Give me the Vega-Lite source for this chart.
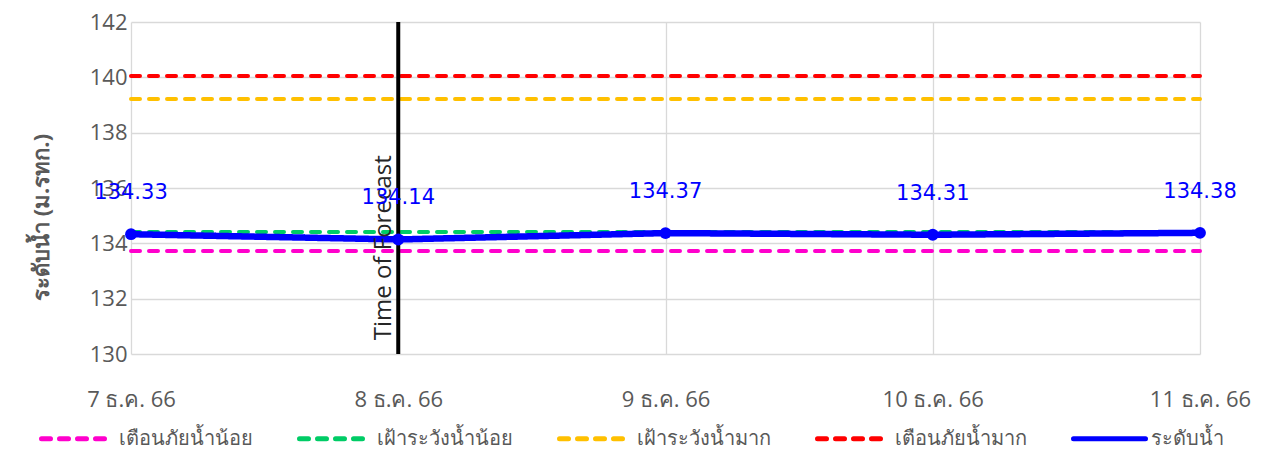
{
  "$schema": "https://vega.github.io/schema/vega-lite/v6.json",
  "autosize": {"type": "none"},
  "width": 1069,
  "height": 332,
  "padding": {"left": 131, "top": 22, "right": 61, "bottom": 98},
  "background": "white",
  "config": {
    "view": {"stroke": null},
    "font": "Open Sans",
    "axis": {"labelColor": "#595959", "labelFontSize": 22, "grid": true, "gridColor": "#d9d9d9", "gridWidth": 1.3, "domain": false, "ticks": false, "labelFont": "Open Sans"}
  },
  "datasets": {
    "levels": [
      {"date": "7 ธ.ค. 66", "series": "เตือนภัยน้ำน้อย", "value": 133.72},
      {"date": "8 ธ.ค. 66", "series": "เตือนภัยน้ำน้อย", "value": 133.72},
      {"date": "9 ธ.ค. 66", "series": "เตือนภัยน้ำน้อย", "value": 133.72},
      {"date": "10 ธ.ค. 66", "series": "เตือนภัยน้ำน้อย", "value": 133.72},
      {"date": "11 ธ.ค. 66", "series": "เตือนภัยน้ำน้อย", "value": 133.72},
      {"date": "7 ธ.ค. 66", "series": "เฝ้าระวังน้ำน้อย", "value": 134.41},
      {"date": "8 ธ.ค. 66", "series": "เฝ้าระวังน้ำน้อย", "value": 134.41},
      {"date": "9 ธ.ค. 66", "series": "เฝ้าระวังน้ำน้อย", "value": 134.41},
      {"date": "10 ธ.ค. 66", "series": "เฝ้าระวังน้ำน้อย", "value": 134.41},
      {"date": "11 ธ.ค. 66", "series": "เฝ้าระวังน้ำน้อย", "value": 134.41},
      {"date": "7 ธ.ค. 66", "series": "เฝ้าระวังน้ำมาก", "value": 139.22},
      {"date": "8 ธ.ค. 66", "series": "เฝ้าระวังน้ำมาก", "value": 139.22},
      {"date": "9 ธ.ค. 66", "series": "เฝ้าระวังน้ำมาก", "value": 139.22},
      {"date": "10 ธ.ค. 66", "series": "เฝ้าระวังน้ำมาก", "value": 139.22},
      {"date": "11 ธ.ค. 66", "series": "เฝ้าระวังน้ำมาก", "value": 139.22},
      {"date": "7 ธ.ค. 66", "series": "เตือนภัยน้ำมาก", "value": 140.05},
      {"date": "8 ธ.ค. 66", "series": "เตือนภัยน้ำมาก", "value": 140.05},
      {"date": "9 ธ.ค. 66", "series": "เตือนภัยน้ำมาก", "value": 140.05},
      {"date": "10 ธ.ค. 66", "series": "เตือนภัยน้ำมาก", "value": 140.05},
      {"date": "11 ธ.ค. 66", "series": "เตือนภัยน้ำมาก", "value": 140.05},
      {"date": "7 ธ.ค. 66", "series": "ระดับน้ำ", "value": 134.33},
      {"date": "8 ธ.ค. 66", "series": "ระดับน้ำ", "value": 134.14},
      {"date": "9 ธ.ค. 66", "series": "ระดับน้ำ", "value": 134.37},
      {"date": "10 ธ.ค. 66", "series": "ระดับน้ำ", "value": 134.31},
      {"date": "11 ธ.ค. 66", "series": "ระดับน้ำ", "value": 134.38}
    ],
    "forecast": [
      {"date": "8 ธ.ค. 66", "label": "Time of Forecast", "ypos": 130.5}
    ]
  },
  "encoding": {
    "x": {
      "field": "date", "type": "ordinal",
      "scale": {"type": "point", "padding": 0, "domain": ["7 ธ.ค. 66", "8 ธ.ค. 66", "9 ธ.ค. 66", "10 ธ.ค. 66", "11 ธ.ค. 66"]},
      "axis": {"title": null, "labelAngle": 0, "labelPadding": 45, "labelBaseline": "middle"}
    }
  },
  "layer": [
    {
      "data": {"name": "levels"},
      "mark": {"type": "line", "strokeCap": "round"},
      "encoding": {
        "y": {
          "field": "value", "type": "quantitative",
          "scale": {"domain": [130, 142], "nice": false, "zero": false},
          "axis": {"values": [130, 132, 134, 136, 138, 140, 142], "labelPadding": 4, "title": "ระดับน้ำ (ม.รทก.)", "titleFontSize": 22, "titleFontWeight": "bold", "titleColor": "#595959", "titleX": -90, "titleY": 195, "titleBaseline": "middle", "titleAlign": "center", "titleAngle": -90}
        },
        "color": {
          "field": "series", "type": "nominal",
          "scale": {"domain": ["เตือนภัยน้ำน้อย", "เฝ้าระวังน้ำน้อย", "เฝ้าระวังน้ำมาก", "เตือนภัยน้ำมาก", "ระดับน้ำ"], "range": ["#ff00cc", "#00cc66", "#ffc000", "#ff0000", "#0000ff"]},
          "legend": {
            "title": null, "orient": "none", "legendX": -92, "legendY": 378, "direction": "horizontal",
            "symbolType": "stroke", "symbolSize": 5184, "symbolStrokeWidth": 5, "labelFontSize": 20, "labelColor": "#595959",
            "labelOffset": 3, "columnPadding": 36, "labelLimit": 400,
            "encode": {"symbols": {"update": {"strokeCap": {"value": "round"}}}}
          }
        },
        "strokeDash": {
          "field": "series", "type": "nominal",
          "scale": {"domain": ["เตือนภัยน้ำน้อย", "เฝ้าระวังน้ำน้อย", "เฝ้าระวังน้ำมาก", "เตือนภัยน้ำมาก", "ระดับน้ำ"], "range": [[9, 9], [9, 9], [9, 9], [9, 9], [1, 0]]}
        },
        "strokeWidth": {"condition": {"test": "datum.series === 'ระดับน้ำ'", "value": 6.5}, "value": 4}
      }
    },
    {
      "data": {"name": "forecast"},
      "mark": {"type": "rule", "color": "black", "strokeWidth": 4},
      "encoding": {}
    },
    {
      "data": {"name": "forecast"},
      "mark": {"type": "text", "angle": 270, "align": "left", "baseline": "alphabetic", "dy": -7, "fontSize": 24, "color": "#262626", "font": "Open Sans"},
      "encoding": {
        "y": {"field": "ypos", "type": "quantitative"},
        "text": {"field": "label"}
      }
    },
    {
      "data": {"name": "levels"},
      "transform": [{"filter": "datum.series === 'ระดับน้ำ'"}],
      "mark": {"type": "point", "filled": true, "opacity": 1, "size": 140, "color": "#0000ff"},
      "encoding": {"y": {"field": "value", "type": "quantitative"}}
    },
    {
      "data": {"name": "levels"},
      "transform": [{"filter": "datum.series === 'ระดับน้ำ'"}],
      "mark": {"type": "text", "dy": -41, "fontSize": 21, "color": "#0000ff", "font": "DejaVu Sans", "baseline": "middle"},
      "encoding": {"y": {"field": "value", "type": "quantitative"}, "text": {"field": "value", "format": ".2f"}}
    }
  ]
}
